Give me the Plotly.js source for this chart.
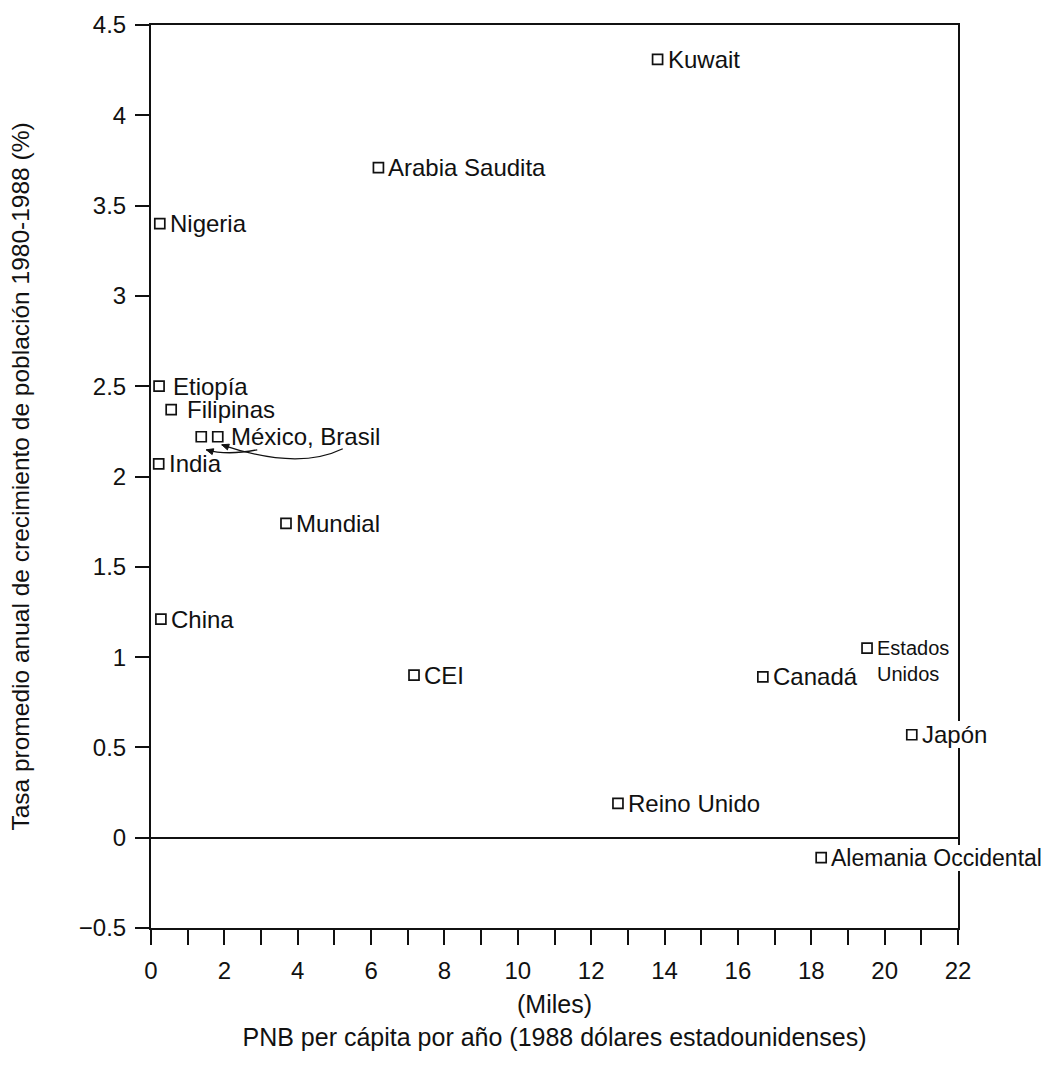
<!DOCTYPE html>
<html>
<head>
<meta charset="utf-8">
<script src="https://cdn.plot.ly/plotly-3.0.1.min.js"></script>
<style>html,body{margin:0;padding:0;background:#fff;}#chart{width:1044px;height:1082px;}</style>
</head>
<body>
<div id="chart"></div>
<script>
// Data
var countries = ["Kuwait","Arabia Saudita","Nigeria","Etiopía","Filipinas","México","Brasil","India","Mundial","China","CEI","Canadá","Estados Unidos","Japón","Reino Unido","Alemania Occidental"];
var gnpPerCapita = [13.81, 6.20, 0.24, 0.22, 0.55, 1.37, 1.82, 0.21, 3.68, 0.27, 7.17, 16.68, 19.52, 20.74, 12.73, 18.27];
var popGrowth = [4.31, 3.71, 3.40, 2.50, 2.37, 2.22, 2.22, 2.07, 1.74, 1.21, 0.90, 0.89, 1.05, 0.57, 0.19, -0.11];
var pointLabels = ["Kuwait","Arabia Saudita","Nigeria","Etiopía","Filipinas","México, Brasil","","India","Mundial","China","CEI","Canadá","Estados<br>Unidos","Japón","Reino Unido","Alemania Occidental"];
var xTickVals = [0,2,4,6,8,10,12,14,16,18,20,22];
var xTickText = ["0","2","4","6","8","10","12","14","16","18","20","22"];
var yTickVals = [-0.5,0,0.5,1,1.5,2,2.5,3,3.5,4,4.5];
var yTickText = ["\u22120.5","0","0.5","1","1.5","2","2.5","3","3.5","4","4.5"];
var xTitle = "(Miles)<br>PNB per cápita por año (1988 dólares estadounidenses)";
var yTitle = "Tasa promedio anual de crecimiento de población 1980-1988 (%)";

var FONT = "Liberation Sans, Arial, Helvetica, sans-serif";
var INK = "#111111";

// label placement tweaks (pixels), kept apart from the data
var labelGap = {"Etiopía": 14, "Filipinas": 16, "México, Brasil": 30};
var DEFAULT_GAP = 10;

var trace = {
  type: "scatter",
  mode: "markers",
  x: gnpPerCapita,
  y: popGrowth,
  text: countries,
  hoverinfo: "text",
  marker: {symbol: "square-open", size: 10, color: INK, line: {width: 1.7, color: INK}},
  showlegend: false,
  cliponaxis: false
};

var annotations = [];
for (var i = 0; i < countries.length; i++) {
  if (!pointLabels[i]) continue;
  var isUS = pointLabels[i].indexOf("<br>") >= 0;
  var atEdge = gnpPerCapita[i] > 18 && !isUS;   // labels that cross the right frame
  var fsize = isUS ? 20 : (pointLabels[i].length > 15 ? 23 : 24);
  var gap = labelGap.hasOwnProperty(pointLabels[i]) ? labelGap[pointLabels[i]] : DEFAULT_GAP;
  annotations.push({
    x: gnpPerCapita[i], y: popGrowth[i], xref: "x", yref: "y",
    text: pointLabels[i], showarrow: false,
    xanchor: "left", yanchor: isUS ? "top" : "middle", align: "left",
    xshift: gap, yshift: isUS ? 11 : 0,
    font: {family: FONT, size: fsize, color: INK},
    bgcolor: atEdge ? "#ffffff" : "rgba(0,0,0,0)", borderpad: 0, borderwidth: 0
  });
}

// curved arrows from the "México, Brasil" label to the two markers
var shapes = [];
function curveArrow(idx, p0, c, p1) {
  // pixel offsets relative to the marker (y positive up)
  var path = "M" + p0[0] + "," + p0[1] + " Q" + c[0] + "," + c[1] + " " + p1[0] + "," + p1[1];
  shapes.push({type: "path", xref: "x", yref: "y", xsizemode: "pixel", ysizemode: "pixel",
    xanchor: gnpPerCapita[idx], yanchor: popGrowth[idx], path: path,
    line: {color: INK, width: 1.3}, layer: "above"});
  var dx = p1[0] - c[0], dy = p1[1] - c[1];
  var L = Math.sqrt(dx*dx + dy*dy); dx /= L; dy /= L;
  var len = 7, w = 3;
  var bx = p1[0] - dx*len, by = p1[1] - dy*len;
  var head = "M" + p1[0] + "," + p1[1] + " L" + (bx - dy*w) + "," + (by + dx*w) + " L" + (bx + dy*w) + "," + (by - dx*w) + " Z";
  shapes.push({type: "path", xref: "x", yref: "y", xsizemode: "pixel", ysizemode: "pixel",
    xanchor: gnpPerCapita[idx], yanchor: popGrowth[idx], path: head,
    fillcolor: INK, line: {color: INK, width: 1}, layer: "above"});
}
curveArrow(5, [56, -13], [26, -19], [5, -13]);
curveArrow(6, [125, -12], [80, -34], [4, -8]);

var layout = {
  width: 1044, height: 1082,
  margin: {l: 151, r: 86, t: 25, b: 154, pad: 0},
  paper_bgcolor: "#ffffff", plot_bgcolor: "#ffffff",
  font: {family: FONT, size: 24, color: INK},
  xaxis: {
    range: [0, 22], tickmode: "array", tickvals: xTickVals, ticktext: xTickText,
    ticks: "outside", ticklen: 15, tickwidth: 2, tickcolor: INK,
    minor: {dtick: 1, tick0: 0, ticks: "outside", ticklen: 15, tickwidth: 2, tickcolor: INK, showgrid: false},
    showline: true, linecolor: INK, linewidth: 2, mirror: true,
    showgrid: false, zeroline: false,
    tickfont: {family: FONT, size: 24, color: INK},
    ticklabelstandoff: 5,
    title: {text: xTitle, font: {family: FONT, size: 25, color: INK}, standoff: 13}
  },
  yaxis: {
    range: [-0.5, 4.5], tickmode: "array", tickvals: yTickVals, ticktext: yTickText,
    ticks: "outside", ticklen: 14, tickwidth: 2, tickcolor: INK,
    showline: true, linecolor: INK, linewidth: 2, mirror: true,
    showgrid: false, zeroline: true, zerolinecolor: INK, zerolinewidth: 2,
    tickfont: {family: FONT, size: 24, color: INK},
    ticklabelstandoff: 4,
    title: {text: yTitle, font: {family: FONT, size: 24.5, color: INK}, standoff: 42}
  },
  annotations: annotations,
  shapes: shapes
};

Plotly.newPlot("chart", [trace], layout, {staticPlot: true, displayModeBar: false});
</script>
</body>
</html>
